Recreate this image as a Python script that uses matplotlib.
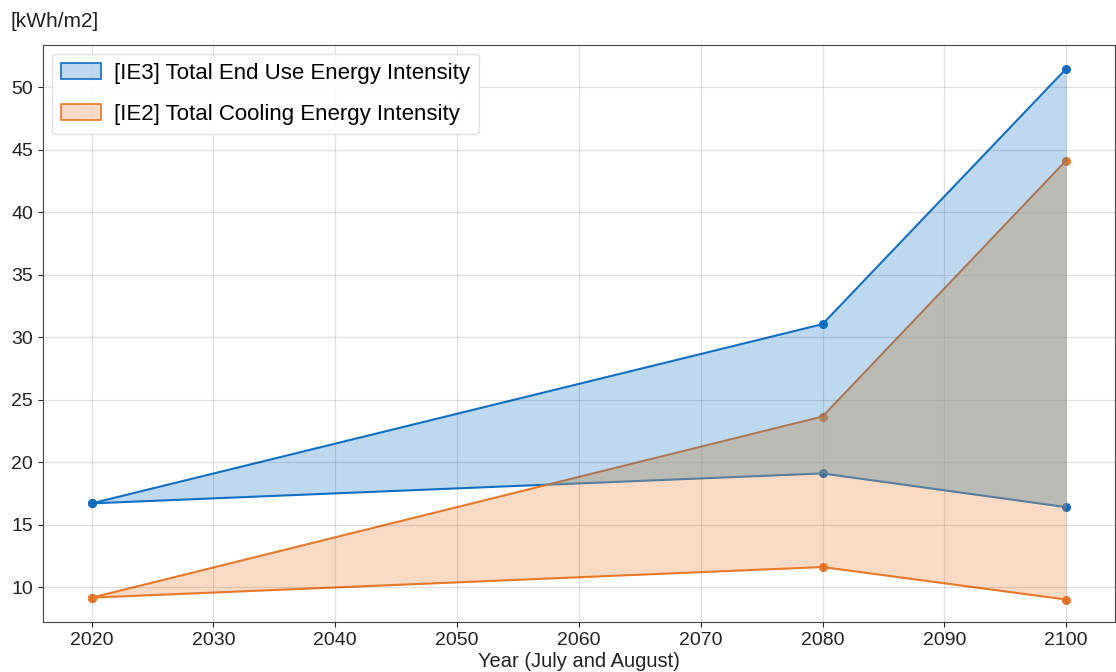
import matplotlib
matplotlib.use("Agg")
import matplotlib.pyplot as plt
import numpy as np
from matplotlib.patches import Patch

plt.rcParams['font.family'] = ['Liberation Sans', 'DejaVu Sans']

years = [2020, 2080, 2100]
ie3_upper = [16.7, 31.05, 51.5]
ie3_lower = [16.7, 19.1, 16.4]
ie2_upper = [9.15, 23.65, 44.15]
ie2_lower = [9.15, 11.6, 9.0]

labels = ["[IE3] Total End Use Energy Intensity", "[IE2] Total Cooling Energy Intensity"]
blue = "#1170c4"
orange = "#e8782a"
fill_alpha = 0.27

fig = plt.figure(figsize=(11.16, 6.72), dpi=100)
ax = fig.add_axes([0.0385, 0.0744, 0.9605, 0.8586])

# lines first, fills on top (as in the reference)
for lo, hi, c in [(ie3_lower, ie3_upper, blue), (ie2_lower, ie2_upper, orange)]:
    ax.plot(years, hi, color=c, lw=1.5, marker="o", ms=5.5, zorder=1)
    ax.plot(years, lo, color=c, lw=1.5, marker="o", ms=5.5, zorder=1)
ax.fill_between(years, ie3_lower, ie3_upper, color=blue, alpha=fill_alpha, lw=0, zorder=2)
ax.fill_between(years, ie2_lower, ie2_upper, color=orange, alpha=fill_alpha, lw=0, zorder=3)
# the reference blends overlapping bands to a neutral grey; tint the overlap
lo3, hi2 = np.array(ie3_lower), np.array(ie2_upper)
ax.fill_between(years, lo3, hi2, where=hi2 >= lo3, interpolate=True,
                color=(146/255, 181/255, 174/255), alpha=0.25, lw=0, zorder=4)

ax.set_xlim(2016, 2104)
ax.set_ylim(7.2, 53.4)
ax.set_xticks(range(2020, 2101, 10))
ax.set_yticks(range(10, 51, 5))
ax.grid(True, color="black", alpha=0.12, lw=0.9, zorder=5)
ax.tick_params(labelsize=14, colors="#222222")
for s in ax.spines.values():
    s.set_color("#444444")
    s.set_zorder(6)

ax.set_xlabel("Year (July and August)", fontsize=14.5, color="#222222", labelpad=2)
fig.text(0.009, 0.968, "[kWh/m2]", fontsize=15, color="#222222", va="center")

handles = [Patch(facecolor=(0.067, 0.44, 0.77, fill_alpha), edgecolor=blue, lw=1.2),
           Patch(facecolor=(0.91, 0.47, 0.165, fill_alpha), edgecolor=orange, lw=1.2)]
leg = ax.legend(handles, labels, loc="upper left", fontsize=16, framealpha=0.9,
                edgecolor="#dddddd", handlelength=1.8, handletextpad=0.6,
                labelspacing=0.9, borderaxespad=0.4)
leg.set_zorder(10)

fig.savefig("out.png", dpi=100)
